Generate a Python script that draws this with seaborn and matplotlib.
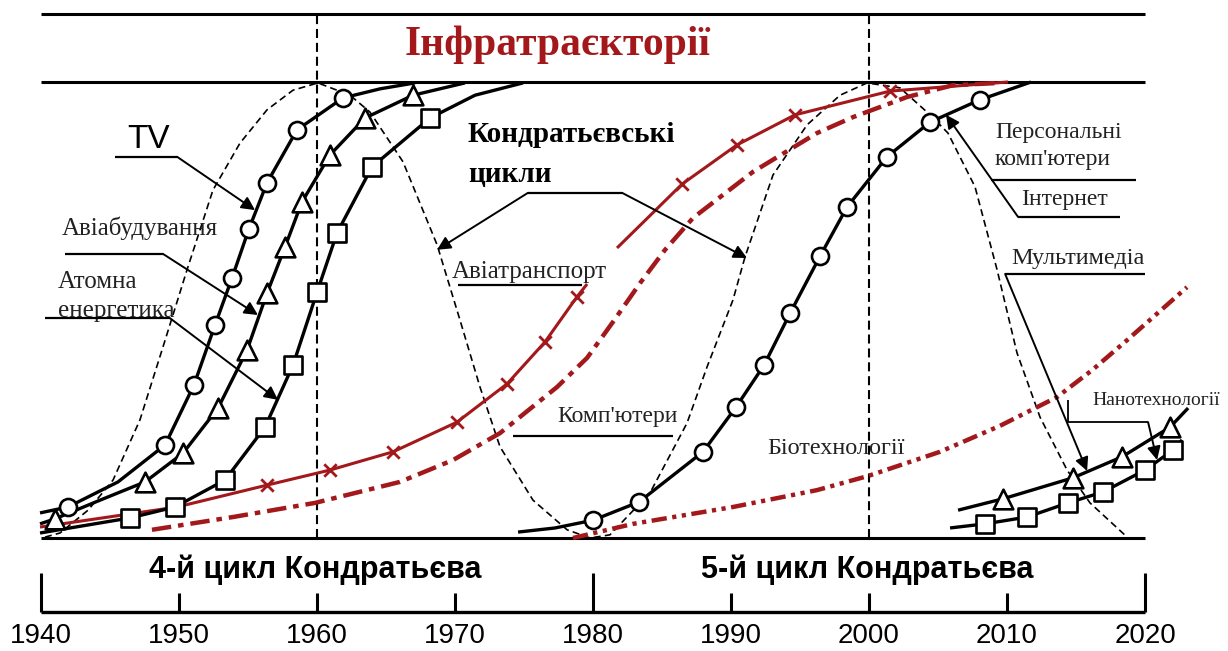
import matplotlib
matplotlib.use("Agg")
import matplotlib.pyplot as plt
import seaborn as sns

# ---------------- data (years, % of saturation) ----------------
TICK_YEARS = [1940, 1950, 1960, 1970, 1980, 1990, 2000, 2010, 2020]
TICK_LABELS = ["1940", "1950", "1960", "1970", "1980", "1990", "2000", "2010", "2020"]

TV_YEARS = [1939.93, 1941.96, 1945.58, 1948.99, 1951.09, 1952.61, 1953.84, 1955.07, 1956.38, 1958.55, 1961.88, 1964.57, 1967.10]
TV_VALS = [5.5, 6.8, 12.3, 20.4, 33.6, 46.7, 57.0, 67.8, 77.9, 89.5, 96.5, 98.5, 99.8]
TV_MARK_YEARS = [1941.96, 1948.99, 1951.09, 1952.61, 1953.84, 1955.07, 1956.38, 1958.55, 1961.88]
TV_MARK_VALS = [6.8, 20.4, 33.6, 46.7, 57.0, 67.8, 77.9, 89.5, 96.5]

AVIA_YEARS = [1939.93, 1941.01, 1944.28, 1947.54, 1950.29, 1952.83, 1954.93, 1956.38, 1957.68, 1958.91, 1960.94, 1963.48, 1966.96, 1970.72]
AVIA_VALS = [3.1, 4.2, 8.3, 12.3, 18.6, 28.5, 41.2, 53.7, 63.8, 73.7, 84.0, 92.1, 97.1, 99.8]
AVIA_MARK_YEARS = [1941.01, 1947.54, 1950.29, 1952.83, 1954.93, 1956.38, 1957.68, 1958.91, 1960.94, 1963.48, 1966.96]
AVIA_MARK_VALS = [4.2, 12.3, 18.6, 28.5, 41.2, 53.7, 63.8, 73.7, 84.0, 92.1, 97.1]

ATOM_YEARS = [1939.93, 1946.45, 1949.71, 1953.33, 1956.23, 1958.26, 1960.00, 1961.45, 1963.99, 1968.19, 1971.45, 1974.93]
ATOM_VALS = [1.1, 4.4, 6.8, 12.7, 24.3, 37.9, 53.9, 66.9, 81.4, 92.1, 97.1, 99.8]
ATOM_MARK_YEARS = [1946.45, 1949.71, 1953.33, 1956.23, 1958.26, 1960.00, 1961.45, 1963.99, 1968.19]
ATOM_MARK_VALS = [4.4, 6.8, 12.7, 24.3, 37.9, 53.9, 66.9, 81.4, 92.1]

AIR1_YEARS = [1939.93, 1949.86, 1956.38, 1960.94, 1965.51, 1970.14, 1973.77, 1976.52, 1978.84, 1979.57]
AIR1_VALS = [2.4, 6.8, 11.6, 14.9, 18.9, 25.4, 33.8, 43.0, 52.9, 55.7]
AIR2_YEARS = [1981.74, 1986.45, 1990.43, 1994.64, 2001.52, 2010.07]
AIR2_VALS = [63.6, 77.6, 86.2, 92.8, 98.0, 100.0]
AIR_MARK_YEARS = [1956.38, 1960.94, 1965.51, 1970.14, 1973.77, 1976.52, 1978.84, 1986.45, 1990.43, 1994.64, 2001.52]
AIR_MARK_VALS = [11.6, 14.9, 18.9, 25.4, 33.8, 43.0, 52.9, 77.6, 86.2, 92.8, 98.0]

COMP_YEARS = [1948.04, 1953.91, 1959.86, 1966.01, 1969.86, 1973.26, 1977.39, 1979.57, 1981.45, 1983.41, 1985.22, 1987.25, 1991.59, 1996.23, 1998.84, 2002.75, 2006.09, 2009.49]
COMP_VALS = [1.8, 4.6, 7.7, 12.3, 17.1, 23.0, 33.1, 39.5, 47.4, 55.9, 63.2, 70.2, 80.3, 88.8, 92.3, 96.7, 99.3, 99.8]

BIO_YEARS = [1978.55, 1982.90, 1990.14, 1996.23, 1999.93, 2005.14, 2009.49, 2013.62, 2016.16, 2018.70, 2023.04]
BIO_VALS = [0.0, 3.1, 6.8, 10.5, 13.6, 18.9, 24.6, 30.9, 36.8, 43.4, 55.0]

PC_YEARS = [1974.57, 1977.25, 1980.00, 1983.33, 1987.97, 1990.36, 1992.39, 1994.28, 1996.45, 1998.41, 2001.30, 2004.42, 2008.04, 2011.74]
PC_VALS = [1.3, 2.2, 3.9, 7.9, 18.9, 28.7, 37.9, 49.3, 61.8, 72.6, 83.6, 91.2, 96.1, 100.0]
PC_MARK_YEARS = [1980.00, 1983.33, 1987.97, 1990.36, 1992.39, 1994.28, 1996.45, 1998.41, 2001.30, 2004.42, 2008.04]
PC_MARK_VALS = [3.9, 7.9, 18.9, 28.7, 37.9, 49.3, 61.8, 72.6, 83.6, 91.2, 96.1]

NANO_T_YEARS = [2006.45, 2009.71, 2014.78, 2018.33, 2021.81, 2023.12]
NANO_T_VALS = [6.1, 8.6, 13.2, 17.8, 24.3, 28.5]
NANO_S_YEARS = [2005.87, 2008.41, 2011.45, 2014.42, 2016.96, 2020.00, 2022.03, 2022.68]
NANO_S_VALS = [2.2, 3.1, 4.6, 7.7, 10.1, 14.9, 19.3, 21.5]

WAVE_YEARS = [1940.29, 1941.38, 1943.41, 1945.22, 1947.17, 1948.84, 1950.58, 1952.46, 1954.42, 1956.38, 1958.26,
              1960.07, 1962.39, 1963.84, 1966.23, 1968.70, 1970.36, 1971.81, 1973.26, 1975.65, 1978.12,
              1979.78, 1981.23, 1984.13, 1986.81, 1988.26, 1990.14, 1991.01, 1993.04, 1995.51, 1997.90,
              1999.86, 2002.25, 2004.42, 2005.72, 2007.68, 2009.28, 2010.72, 2012.39, 2014.35, 2016.01, 2018.70]
WAVE_VALS = [0.2, 1.1, 6.1, 12.7, 25.9, 41.9, 58.8, 76.3, 86.6, 93.9, 98.2,
             99.8, 97.1, 93.4, 82.5, 64.3, 47.8, 33.1, 20.0, 8.3, 1.8,
             0.0, 0.7, 9.9, 25.2, 37.5, 52.2, 61.6, 79.6, 90.6, 97.1,
             99.8, 98.7, 92.8, 88.8, 77.0, 58.8, 40.6, 26.5, 14.9, 7.7, 0.2]

RED = "#a3181b"
BLACK = "black"
SERIF = ["Liberation Serif", "DejaVu Serif"]
SANS = ["Liberation Sans", "DejaVu Sans"]

sns.set_theme(style="white")
plt.rcParams["font.family"] = SANS
plt.rcParams["text.color"] = "black"
plt.rcParams["lines.scale_dashes"] = False

fig = plt.figure(figsize=(12.28, 6.51), dpi=100)
ax = fig.add_axes([0, 0, 1, 1])
ax.set_xlim(1937.03, 2026.01)
ax.set_ylim(-24.78, 117.98)
ax.axis("off")


def line(xs, ys, color=BLACK, lw=2.2, dashes=None, z=2):
    sns.lineplot(x=xs, y=ys, ax=ax, color=color, linewidth=lw, sort=False,
                 estimator=None, zorder=z, solid_capstyle="butt", dash_capstyle="butt",
                 solid_joinstyle="round")
    ln = ax.lines[-1]
    if dashes is not None:
        ln.set_dashes(dashes)
    return ln


def marks(xs, ys, marker, s, z=5):
    sns.scatterplot(x=xs, y=ys, ax=ax, marker=marker, s=s, color="white",
                    edgecolor=BLACK, linewidth=1.9, zorder=z)


# frame lines
line([1940, 2020], [114.9, 114.9], lw=2.2)
line([1940, 2020], [100, 100], lw=2.2)
line([1940, 2020], [0, 0], lw=2.2)
line([1960, 1960], [0, 114.9], lw=1.5, dashes=(6.5, 3.5))
line([2000, 2000], [0, 114.9], lw=1.5, dashes=(6.5, 3.5))

# Kondratiev wave
line(WAVE_YEARS, WAVE_VALS, lw=1.2, dashes=(5, 3), z=3)

# red curves
line(AIR1_YEARS, AIR1_VALS, color=RED, lw=2.2, z=3)
line(AIR2_YEARS, AIR2_VALS, color=RED, lw=2.2, z=3)
sns.scatterplot(x=AIR_MARK_YEARS, y=AIR_MARK_VALS, ax=ax, marker="x", s=80,
                color=RED, linewidth=2.0, zorder=4)
line(COMP_YEARS, COMP_VALS, color=RED, lw=3.2, dashes=(14, 5, 4, 5), z=3)
line(BIO_YEARS, BIO_VALS, color=RED, lw=3.2, dashes=(11, 4, 3, 4, 3, 4), z=3)

# black S-curves
line(TV_YEARS, TV_VALS, lw=2.4, z=3)
marks(TV_MARK_YEARS, TV_MARK_VALS, "o", 150)
line(AVIA_YEARS, AVIA_VALS, lw=2.4, z=3)
marks(AVIA_MARK_YEARS, AVIA_MARK_VALS, "^", 200)
line(ATOM_YEARS, ATOM_VALS, lw=2.4, z=3)
marks(ATOM_MARK_YEARS, ATOM_MARK_VALS, "s", 150)
line(PC_YEARS, PC_VALS, lw=2.4, z=3)
marks(PC_MARK_YEARS, PC_MARK_VALS, "o", 150)
line(NANO_T_YEARS, NANO_T_VALS, lw=2.4, z=3)
marks(NANO_T_YEARS[1:5], NANO_T_VALS[1:5], "^", 200)
line(NANO_S_YEARS, NANO_S_VALS, lw=2.4, z=3)
marks(NANO_S_YEARS[1:7], NANO_S_VALS[1:7], "s", 150)

# bottom time axis
line([1940, 2020], [-16.2, -16.2], lw=2.4)
for yr in TICK_YEARS:
    top = -7.7 if yr in (1940, 1980, 2020) else -12.1
    line([yr, yr], [-16.2, top], lw=2.2)
for yr, lab in zip(TICK_YEARS, TICK_LABELS):
    ax.text(yr, -21.5, lab, ha="center", va="center", fontsize=20, family=SANS, color=BLACK)

ax.text(1959.86, -8.8, "4-й цикл Кондратьєва", ha="center", va="baseline",
        fontsize=22, fontweight="bold", family=SANS, color=BLACK)
ax.text(1999.86, -8.8, "5-й цикл Кондратьєва", ha="center", va="baseline",
        fontsize=22, fontweight="bold", family=SANS, color=BLACK)

# titles
ax.text(1977.46, 105.9, "Інфратраєкторії", ha="center", va="baseline", fontsize=30,
        fontweight="bold", family=SERIF, color=RED)
ax.text(1970.94, 86.8, "Кондратьєвські", ha="left", va="baseline", fontsize=21,
        fontweight="bold", family=SERIF, color=BLACK)
ax.text(1970.94, 78.1, "цикли", ha="left", va="baseline", fontsize=21,
        fontweight="bold", family=SERIF, color=BLACK)
ax.text(1946.23, 85.5, "TV", ha="left", va="baseline", fontsize=24, family=SANS, color=BLACK)

GREY = "#222222"
labels = [
    (1941.52, 66.4, "Авіабудування", 18),
    (1941.23, 54.8, "Атомна", 18),
    (1941.23, 48.4, "енергетика", 18),
    (1969.78, 57.0, "Авіатранспорт", 18),
    (1977.39, 25.5, "Комп'ютери", 17),
    (1992.61, 18.4, "Біотехнології", 17.5),
    (2009.13, 87.7, "Персональні", 17),
    (2009.13, 81.8, "комп'ютери", 17),
    (2011.01, 73.0, "Інтернет", 17),
    (2010.29, 60.1, "Мультимедіа", 17.5),
    (2016.16, 29.2, "Нанотехнології", 14),
]
for x, y, s, fs in labels:
    ax.text(x, y, s, ha="left", va="baseline", fontsize=fs, family=SERIF, color=GREY, zorder=6)


def arrow(start, tip):
    ax.annotate("", xy=tip, xytext=start,
                arrowprops=dict(arrowstyle="-|>", color=BLACK, lw=1.4, mutation_scale=20,
                                shrinkA=0, shrinkB=0), zorder=6)


def seg(xs, ys, lw=1.6):
    ax.plot(xs, ys, color=BLACK, lw=lw, zorder=6, solid_capstyle="butt")


# leader lines
seg([1945.36, 1949.86], [83.6, 83.6])
arrow((1949.86, 83.6), (1955.51, 71.9))
seg([1941.74, 1948.84], [62.3, 62.3])
arrow((1948.84, 62.3), (1955.72, 48.9))
seg([1940.29, 1949.35], [48.2, 48.2])
arrow((1949.35, 48.2), (1957.17, 30.3))

seg([1975.29, 1982.10], [75.7, 75.7])
arrow((1975.29, 75.7), (1968.70, 63.2))
arrow((1982.10, 75.7), (1991.16, 61.4))

seg([1970.22, 1979.20], [55.5, 55.5])
seg([1974.20, 1985.80], [22.4, 22.4])

seg([2008.84, 2019.35], [78.5, 78.5])
seg([2010.80, 2018.19], [70.4, 70.4])
arrow((2010.80, 70.4), (2005.58, 92.8))
seg([2009.86, 2020.00], [57.9, 57.9])
arrow((2009.86, 57.9), (2015.80, 14.7))
seg([2014.42, 2014.42, 2020.22], [30.3, 25.4, 25.4], lw=1.3)
arrow((2020.22, 25.4), (2020.87, 17.1))

fig.savefig("out.png", dpi=100)
